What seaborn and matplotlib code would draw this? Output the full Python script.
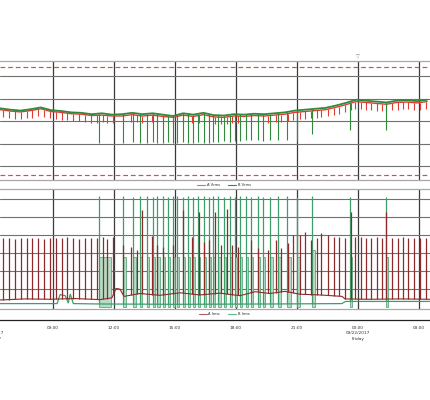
import numpy as np
import matplotlib
matplotlib.use("Agg")
import matplotlib.pyplot as plt
import matplotlib.transforms as mtransforms
from matplotlib.lines import Line2D
from matplotlib.ticker import MultipleLocator
import seaborn as sns

sns.set_style("white")
plt.rcParams['font.family'] = ['DejaVu Sans']

# time in hours since 09/21/2017 00:00
x_lo, x_hi = 6.393, 27.545

# --- voltage (Vrms) readings ---
vt = [6.4, 6.9, 7.4, 7.9, 8.4, 8.9, 9.4, 9.9, 10.4, 10.9, 11.4, 11.9, 12.4, 12.9,
      13.4, 13.9, 14.4, 14.9, 15.4, 15.9, 16.4, 16.9, 17.4, 17.9, 18.4, 18.9, 19.4,
      19.9, 20.4, 20.9, 21.4, 21.9, 22.4, 22.9, 23.4, 23.9, 24.4, 24.9, 25.4, 25.9,
      26.4, 26.9, 27.4]
B_v = [122.9, 122.6, 122.4, 122.7, 123.1, 122.5, 122.3, 122.0, 121.9, 121.6, 121.8,
       121.5, 121.6, 121.9, 121.6, 121.8, 121.5, 121.2, 121.8, 121.5, 121.9, 121.4,
       121.3, 121.6, 121.5, 121.7, 121.6, 121.8, 122.0, 122.4, 122.6, 122.8, 123.0,
       123.5, 124.1, 124.8, 124.6, 124.4, 124.2, 124.6, 124.7, 124.5, 124.8]
A_v = [122.6, 122.3, 122.1, 122.4, 122.8, 122.2, 122.0, 121.7, 121.6, 121.3, 121.4,
       121.2, 121.2, 121.5, 121.2, 121.4, 121.1, 120.9, 121.4, 121.1, 121.5, 121.0,
       120.9, 121.2, 121.1, 121.3, 121.2, 121.4, 121.6, 122.0, 122.2, 122.4, 122.6,
       123.1, 123.7, 124.4, 124.2, 124.0, 123.8, 124.2, 124.3, 124.1, 124.4]
A_vdip = 1.6
v_limits = [108, 132]

# --- phase A load events (red spikes) ---
A_t = [6.54, 6.84, 7.13, 7.43, 7.72, 7.97, 8.26, 8.56, 8.85, 9.15, 9.44, 9.69, 9.98,
       10.28, 10.57, 10.87, 11.16, 11.46, 11.66, 11.95,
       12.44, 12.84, 13.13, 13.38, 13.87, 14.12, 14.41, 14.90, 15.39, 15.84, 16.18,
       16.43, 16.67, 16.97, 17.26, 17.56, 17.80, 18.10, 18.74, 19.08, 19.58, 19.97,
       20.22, 20.56, 20.81,
       21.15, 21.40, 21.69, 21.99, 22.18, 22.53, 22.82, 23.07, 23.36, 23.66, 23.86,
       24.15, 24.40, 24.64, 24.94, 25.18, 25.38, 25.68, 25.97, 26.22, 26.46, 26.76,
       27.05, 27.35]
A_ipk = [19.1, 19.3, 19.0, 19.2, 19.1, 19.3, 19.2, 19.0, 19.1, 19.3, 19.2, 19.4, 19.1,
         19.0, 19.2, 19.1, 19.3, 19.6, 18.9, 19.5,
         17.2, 16.7, 15.8, 26.9, 19.7, 17.2, 16.7, 17.2, 26.9, 19.4, 26.4, 18.0, 18.6,
         26.4, 17.2, 27.2, 17.2, 16.7, 18.6, 16.4, 15.8, 18.6, 16.4, 17.8, 20.0,
         20.0, 20.8, 18.6, 19.2, 20.6, 20.0, 19.4, 19.4, 19.2, 26.4, 19.4, 19.4, 19.2,
         19.2, 19.4, 19.2, 26.4, 19.2, 19.2, 19.4, 19.2, 19.2, 19.2, 19.2]

# --- phase B load events (green spikes) ---
B_t = [11.26, 12.44, 12.94, 13.28, 13.62, 13.92, 14.12, 14.41, 14.66, 14.90, 15.10,
       15.39, 15.64, 15.89, 16.13, 16.43, 16.67, 16.87, 17.12, 17.41, 17.71, 17.95,
       18.20, 18.49, 18.74, 19.08, 19.33, 19.67, 20.07, 20.51, 21.00, 21.74, 23.61,
       25.38]
B_vdip = [115.3, 115.3, 115.4, 115.3, 115.3, 115.4, 115.3, 115.3, 115.4, 115.3, 115.3,
          115.4, 115.3, 115.3, 115.4, 115.3, 115.3, 115.4, 115.5, 115.6, 115.5, 115.7,
          115.7, 115.8, 115.8, 115.8, 115.7, 115.8, 115.8, 115.8, 115.7, 117.3, 118.2,
          118.2]
B_ipk = [30.9, 30.8, 30.7, 30.9, 30.8, 30.6, 30.8, 30.9, 30.7, 30.8, 30.9, 30.6, 30.8,
         30.7, 30.9, 30.8, 30.6, 30.8, 30.9, 30.7, 30.8, 30.6, 30.9, 30.8, 30.7, 30.8,
         30.6, 30.7, 30.8, 30.9, 30.6, 30.9, 30.5, 30.5]
B_on_lvl = [13.9, 13.9, 13.8, 14.0, 13.9, 13.9, 13.8, 14.0, 13.9, 13.9, 13.8, 14.0,
            13.9, 13.9, 13.8, 14.0, 13.9, 13.9, 13.8, 14.0, 13.9, 13.9, 13.8, 14.0,
            13.9, 13.9, 13.8, 14.0, 13.9, 13.9, 13.9, 15.8, 14.0, 14.0]
B_on_dur = [0.60, 0.15, 0.12, 0.12, 0.12, 0.10, 0.12, 0.12, 0.10, 0.12, 0.10, 0.12,
            0.12, 0.10, 0.12, 0.12, 0.10, 0.12, 0.12, 0.12, 0.10, 0.12, 0.12, 0.10,
            0.12, 0.12, 0.12, 0.15, 0.15, 0.20, 0.15, 0.15, 0.10, 0.10]

# --- current (Irms) base readings ---
A_it = [6.39, 7.62, 8.85, 10.08, 11.31, 11.90, 12.10, 12.30, 12.49, 13.28, 14.26, 15.25,
        16.23, 17.21, 18.20, 18.94, 19.67, 20.41, 21.15, 22.13, 23.22, 23.36, 24.59,
        26.07, 27.54]
A_i = [2.0, 2.3, 2.2, 2.4, 2.1, 2.6, 5.2, 5.0, 3.0, 3.8, 3.3, 4.0, 3.4, 3.9, 3.2, 4.3,
       3.8, 4.4, 3.6, 3.4, 3.0, 2.3, 2.2, 2.3, 2.2]
B_it = [6.39, 9.20, 9.35, 9.60, 9.75, 9.85, 10.00, 11.20, 15.00, 20.00, 23.20, 23.40,
        27.54]
B_i = [1.0, 1.0, 3.5, 3.2, 1.2, 3.6, 1.0, 0.9, 0.8, 0.9, 1.0, 1.6, 1.6]

major_h = [9, 12, 15, 18, 21, 24, 27]
major_lbl = ["09:00", "12:00", "15:00", "18:00", "21:00", "00:00\n09/22/2017\nFriday", "03:00"]

c_av, c_bv = '#e03c31', '#2f8a3c'
c_ai, c_bi = '#8e2a2a', '#3e9e6b'
c_grid_h, c_grid_v, c_border = '#707070', '#3a3a3a', '#a8a8a8'

fig = plt.figure(figsize=(4.3, 4.0), dpi=100)
H = 400.0
ax1 = fig.add_axes([0, (H - 180) / H, 1, (180 - 61) / H])
ax2 = fig.add_axes([0, (H - 309) / H, 1, (309 - 189) / H])
ax3 = fig.add_axes([0, (H - 320) / H, 1, 0.0001])

for ax in (ax1, ax2):
    ax.set_xlim(x_lo, x_hi)
    ax.set_xticks([])
    ax.set_yticks([])
    for s in ('left', 'right'):
        ax.spines[s].set_visible(False)
    for s in ('top', 'bottom'):
        ax.spines[s].set_color(c_border)
        ax.spines[s].set_linewidth(0.9)
    for h in major_h:
        ax.axvline(h, color=c_grid_v, lw=0.9, zorder=1)

# top panel: voltage
ax1.set_ylim(107.0, 133.4)
for v in [110, 115, 120, 125, 130]:
    ax1.axhline(v, color=c_grid_h, lw=0.8, zorder=1)
for v in v_limits:
    ax1.axhline(v, color='#e4483e', lw=0.85, dashes=(4, 2.5), zorder=1)

a_base = np.interp(A_t, vt, A_v)
ax1.vlines(A_t, a_base - A_vdip, a_base, color=c_av, lw=0.8, zorder=2)
sns.lineplot(x=vt, y=A_v, ax=ax1, color=c_av, lw=1.0, legend=False, zorder=3)
sns.lineplot(x=vt, y=B_v, ax=ax1, color=c_bv, lw=1.3, legend=False, zorder=4)
b_base = np.interp(B_t, vt, B_v)
ax1.vlines(B_t, B_vdip, b_base, color=c_bv, lw=0.8, zorder=4)
ax1.set_xlabel('')
ax1.set_ylabel('')

# bottom panel: current
ax2.set_ylim(-0.5, 32.8)
for v in [5, 10, 15, 20, 25, 30]:
    ax2.axhline(v, color=c_grid_h, lw=0.8, zorder=1)
ax2.bar(B_t, B_on_lvl, width=B_on_dur, align='edge', color='#b5dcc5',
        edgecolor=c_bi, lw=0.5, zorder=2)
sns.lineplot(x=B_it, y=B_i, ax=ax2, color=c_bi, lw=0.9, legend=False, zorder=3)
ib = np.interp(B_t, B_it, B_i)
ax2.vlines(B_t, ib, B_ipk, color=c_bi, lw=0.9, zorder=3)
sns.lineplot(x=A_it, y=A_i, ax=ax2, color=c_ai, lw=0.8, legend=False, zorder=4)
ia = np.interp(A_t, A_it, A_i)
ax2.vlines(A_t, ia, A_ipk, color=c_ai, lw=0.9, zorder=4)
ax2.set_xlabel('')
ax2.set_ylabel('')

# time axis
ax3.set_xlim(x_lo, x_hi)
ax3.set_yticks([])
ax3.patch.set_alpha(0)
for s in ('left', 'right', 'top'):
    ax3.spines[s].set_visible(False)
ax3.spines['bottom'].set_color('#222222')
ax3.spines['bottom'].set_linewidth(0.9)
ax3.set_xticks(major_h)
ax3.set_xticklabels(major_lbl)
ax3.xaxis.set_minor_locator(MultipleLocator(1))
ax3.tick_params(axis='x', which='major', length=2.2, width=0.7, pad=1.8,
                labelsize=3.1, labelcolor='#333333', color='#222222')
ax3.tick_params(axis='x', which='minor', length=1.6, width=0.6, color='#222222')
for lbl in ax3.get_xticklabels():
    lbl.set_linespacing(1.5)
trans3 = mtransforms.blended_transform_factory(ax3.transData, fig.transFigure)
ax3.text(6, (H - 325.5) / H, "06:00\n09/21/2017\nThursday", transform=trans3,
         ha='center', va='top', fontsize=3.1, color='#333333', linespacing=1.5,
         clip_on=False)

# cursor marker
trans1 = mtransforms.blended_transform_factory(ax1.transData, fig.transFigure)
ax1.text(24, (H - 57) / H, "\u25bd", transform=trans1, ha='center', va='center',
         fontsize=3.5, color='#777777', clip_on=False)

# legends
lg_kw = dict(ncol=2, frameon=False, fontsize=2.6, handlelength=2.2,
             handletextpad=0.5, columnspacing=2.2, loc='center')
fig.legend([Line2D([], [], color='#e36a5e', lw=0.8), Line2D([], [], color=c_bv, lw=0.8)],
           ['A Vrms', 'B Vrms'], bbox_to_anchor=(224 / 430, (H - 185) / H), **lg_kw)
fig.legend([Line2D([], [], color='#b06060', lw=0.8), Line2D([], [], color='#5cb88a', lw=0.8)],
           ['A Irms', 'B Irms'], bbox_to_anchor=(224 / 430, (H - 314) / H), **lg_kw)

fig.savefig('out.png', dpi=100)
